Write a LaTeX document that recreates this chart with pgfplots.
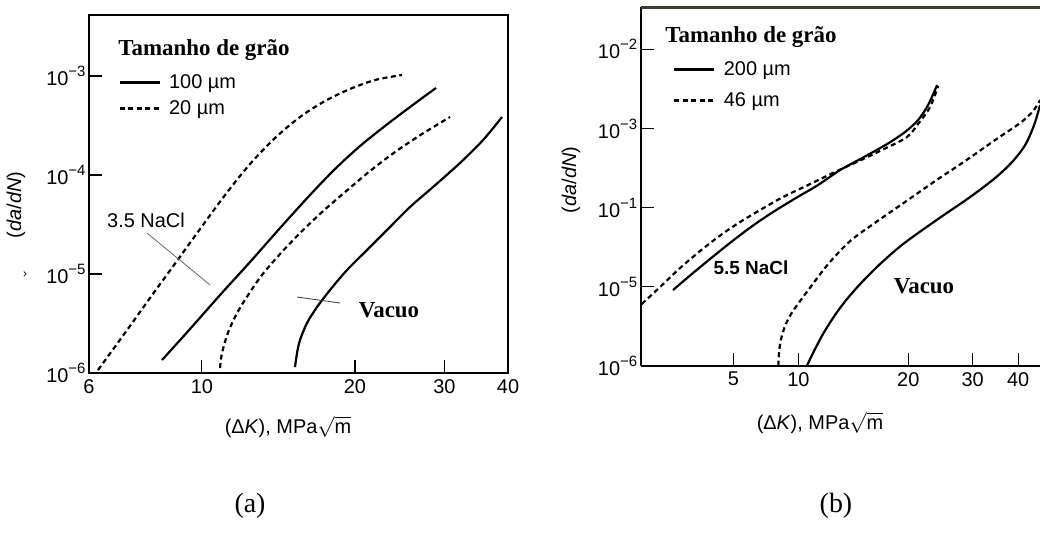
\documentclass[border=0pt]{standalone}
\usepackage{pgfplots}
\pgfplotsset{compat=1.18}
\usepackage{fontspec}
\setmainfont{Liberation Sans}
\newfontfamily\serif{Liberation Serif}
\newcommand\fs[1]{\fontsize{#1}{#1}\selectfont}
\newcommand\ex[1]{10\raisebox{0.45em}{\fs{15}−#1}}
\definecolor{olivetop}{RGB}{58,62,42}
\pgfplotsset{
  common/.style={
    scale only axis,
    xminorticks=false, yminorticks=false,
    tick align=inside, major tick length=13bp,
    every tick/.style={black, line width=1.3bp},
    tick label style={font=\fs{20}},
    xticklabel style={yshift=-3bp},
    legend style={draw=none, fill=none, font=\fs{20}, inner sep=0pt, legend cell align=left,
      /tikz/every odd column/.append style={column sep=6bp}},
    legend image code/.code={\draw[##1, line width=3bp] (0bp,0bp) -- (40bp,0bp);},
  },
  sol/.style={black, line width=2.2bp, smooth, no markers},
  das/.style={black, line width=2.2bp, smooth, no markers, dash pattern=on 5bp off 3.5bp},
}
\begin{document}
\begin{tikzpicture}
\useasboundingbox (0,0) rectangle (1040bp,-539bp);
% ---------------- panel (a)
\begin{loglogaxis}[common,
  at={(89bp,-373bp)}, anchor=south west, width=419bp, height=358bp,
  xmin=6, xmax=40, ymin=1e-6, ymax=4.13e-3,
  xtick={6,10,20,30,40}, xticklabels={6,10,20,30,40},
  ytick={1e-6,1e-5,1e-4,1e-3},
  yticklabels={\ex{6},\ex{5},\ex{4},\ex{3}},
  xtick pos=bottom, ytick pos=left,
  axis line style={line width=1.6bp},
  legend style={at={(0.069,0.84)}, anchor=north west, row sep=7bp},
]
\addplot[sol] coordinates {(8.35,1.353e-6)(9.48,2.783e-6)(10.86,6.136e-6)(12.44,1.322e-5)(14.25,2.914e-5)(16.32,6.28e-5)(18.28,1.150e-4)(20.47,1.963e-4)(22.92,3.126e-4)(25.67,4.862e-4)(28.87,7.566e-4)};
\addlegendentry{100 µm}
\addplot[das] coordinates {(6.25,1.072e-6)(7.06,2.535e-6)(7.91,5.72e-6)(8.86,1.277e-5)(9.92,2.848e-5)(11.11,6.28e-5)(12.44,1.292e-4)(13.93,2.364e-4)(15.60,3.853e-4)(17.47,5.59e-4)(19.57,7.39e-4)(21.91,9.11e-4)(24.76,1.024e-3)};
\addlegendentry{20 µm}
\addplot[das] coordinates {(10.86,1.123e-6)(10.91,1.418e-6)(11.06,1.918e-6)(11.31,2.719e-6)(11.73,4.037e-6)(12.33,6.136e-6)(13.13,9.77e-6)(14.25,1.592e-5)(15.60,2.595e-5)(17.24,4.229e-5)(19.13,6.73e-5)(21.42,1.098e-4)(23.99,1.707e-4)(27.10,2.595e-4)(30.77,3.853e-4)};
\addplot[sol] coordinates {(15.25,1.15e-6)(15.39,1.592e-6)(15.60,2.154e-6)(16.10,3.2e-6)(16.85,4.64e-6)(17.87,6.89e-6)(19.30,1.098e-5)(21.13,1.748e-5)(23.13,2.783e-5)(25.67,4.752e-5)(28.49,7.566e-5)(32.19,1.322e-4)(35.74,2.257e-4)(38.94,3.853e-4)};
\end{loglogaxis}
\node[font=\serif\bfseries\fs{23}] at (204bp,-50bp) {Tamanho de grão};
\node[font=\fs{20}] at (146bp,-220bp) {3.5 NaCl};
\draw[line width=0.8bp, black!60] (147bp,-233bp) -- (210bp,-285bp);
\node[font=\serif\bfseries\fs{23}] at (389bp,-310bp) {Vacuo};
\draw[line width=0.8bp, black!80] (297bp,-297bp) -- (340bp,-303bp);
\node[rotate=90, font=\fs{20}] at (16bp,-205bp) {(\textit{da}/\textit{dN})};
\node[font=\fs{12}] at (25bp,-275bp) {›};
\node[font=\fs{20}] at (288bp,-427bp) {(Δ\textit{K}), MPa$\sqrt{\mbox{m}}$};
\node[font=\serif\fs{28}] at (250bp,-506bp) {(a)};
% ---------------- panel (b)
\begin{loglogaxis}[common,
  at={(640.7bp,-365.7bp)}, anchor=south west, width=399.3bp, height=358.7bp,
  xmin=3.70, xmax=45.9, ymin=1e-6, ymax=3.43e-2,
  axis x line*=bottom, axis y line*=left,
  xtick={6.64,10,20,30,40}, xticklabels={5,10,20,30,40},
  ytick={1e-6,1e-5,1e-4,1e-3,1e-2},
  yticklabels={\ex{6},\ex{5},\ex{1},\ex{3},\ex{2}},
  axis line style={line width=1.6bp, -},
  legend style={at={(0.08,0.854)}, anchor=north west, row sep=12bp},
  extra description/.code={\draw[line width=3bp, olivetop] (axis description cs:0,1) -- (axis description cs:1,1);},
]
\addplot[sol] coordinates {(4.536,9.06e-6)(5.146,1.486e-5)(5.840,2.402e-5)(6.624,3.826e-5)(7.514,5.92e-5)(8.525,8.77e-5)(9.794,1.300e-4)(11.32,1.925e-4)(13.01,2.979e-4)(15.04,4.286e-4)(17.50,6.35e-4)(19.60,9.01e-4)(21.28,1.277e-3)(22.66,1.976e-3)(23.99,3.538e-3)};
\addlegendentry{200 µm}
\addplot[das] coordinates {(3.724,6.03e-6)(4.179,9.88e-6)(4.742,1.718e-5)(5.379,2.818e-5)(6.103,4.426e-5)(6.922,6.556e-5)(7.856,9.30e-5)(9.080,1.358e-4)(10.77,1.982e-4)(12.76,2.893e-4)(15.04,4.10e-4)(17.50,5.734e-4)(19.85,7.784e-4)(21.28,1.137e-3)(22.95,1.865e-3)(24.14,3.436e-3)};
\addlegendentry{46 µm}
\addplot[das] coordinates {(8.814,1.0e-6)(8.853,1.49e-6)(8.966,2.175e-6)(9.196,3.177e-6)(9.550,4.504e-6)(10.11,6.577e-6)(10.90,1.048e-5)(12.07,1.931e-5)(13.86,3.771e-5)(16.33,6.556e-5)(19.60,1.174e-4)(23.69,2.163e-4)(28.62,3.871e-4)(34.58,7.135e-4)(40.49,1.170e-3)(43.95,1.660e-3)(45.93,2.286e-3)};
\addplot[sol] coordinates {(10.56,1.0e-6)(10.90,1.365e-6)(11.68,2.516e-6)(12.60,4.375e-6)(13.59,6.97e-6)(14.94,1.143e-5)(16.74,1.931e-5)(19.36,3.455e-5)(23.69,6.75e-5)(29.54,1.358e-4)(34.58,2.36e-4)(38.50,3.760e-4)(41.80,6.17e-4)(44.23,1.104e-3)(45.93,1.976e-3)};
\end{loglogaxis}
\node[font=\serif\bfseries\fs{23}] at (751bp,-37bp) {Tamanho de grão};
\node[font=\bfseries\fs{19}] at (751bp,-268bp) {5.5 NaCl};
\node[font=\serif\bfseries\fs{23}] at (924bp,-286bp) {Vacuo};
\node[rotate=90, font=\fs{20}] at (571bp,-180bp) {(\textit{da}/\textit{dN})};
\node[font=\fs{20}] at (820bp,-423bp) {(Δ\textit{K}), MPa$\sqrt{\mbox{m}}$};
\node[font=\serif\fs{28}] at (836bp,-506bp) {(b)};
\end{tikzpicture}
\end{document}
